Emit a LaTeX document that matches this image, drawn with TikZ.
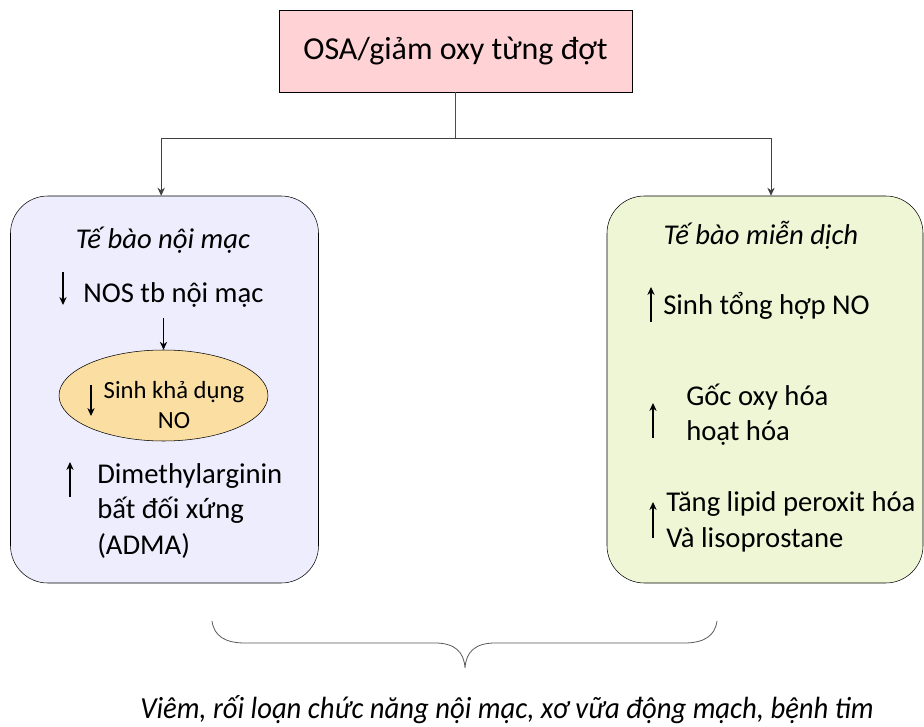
\documentclass[tikz,border=0pt]{standalone}
\usepackage{fontspec}
\setmainfont{Carlito}
\usetikzlibrary{positioning}
\usetikzlibrary{shapes.geometric}
\usetikzlibrary{arrows.meta}
\definecolor{osapink}{RGB}{255,210,214}
\definecolor{endofill}{RGB}{237,237,253}
\definecolor{immfill}{RGB}{238,246,214}
\definecolor{nofill}{RGB}{250,222,162}
\tikzset{%
  osabox/.style = {rectangle,draw,fill=osapink,minimum width=264.75pt,
        minimum height=61.5pt,font=\fontsize{24}{29}\selectfont},
  cellbox/.style = {rectangle,draw,rounded corners=28pt,minimum width=231pt,
        minimum height=290.25pt},
  head/.style = {font=\fontsize{21.5}{26}\selectfont\itshape},
  txt/.style = {font=\fontsize{21.5}{26.5}\selectfont,align=left,anchor=west,
        inner sep=0pt},
  smalltxt/.style = {font=\fontsize{18.5}{22.5}\selectfont,align=center,
        inner sep=0pt},
  link/.style = {draw=black!70,line width=0.6pt},
  flow/.style = {-{Stealth[length=6pt,width=5.5pt]},black!75,line width=0.6pt},
  ind/.style = {-{Stealth[length=6pt,width=5.5pt]},line width=0.8pt}
}
\begin{document}
\begin{tikzpicture}[x=0.75pt,y=-0.75pt]
  \useasboundingbox (0,0) rectangle (924,727);
  \node[osabox] (osa) at (455.5,51) {OSA/giảm oxy từng đợt};
  \node[cellbox,fill=endofill] (endo) at (164.5,389.5) {};
  \node[cellbox,fill=immfill,minimum width=237pt] (imm) at (765,389.5) {};
  \coordinate (split) at (osa.south |- 0,138);
  \draw[link] (osa.south) -- (split);
  \draw[flow] (split) -| ([xshift=-2.5pt]endo.north);
  \draw[flow] (split) -| ([xshift=4.5pt]imm.north);
  % left box
  \node[head] (endohead) at (163,240) {Tế bào nội mạc};
  \node[txt] (nos) at (83,295) {NOS tb nội mạc};
  \node[ellipse,draw,fill=nofill,minimum width=156.75pt,minimum height=68.25pt,
        inner sep=0pt] (bio) at (163.5,395.5) {};
  \node[smalltxt] (biotxt) at (174,405) {Sinh khả dụng\\NO};
  \draw[flow,black] ([yshift=-8pt]nos.south -| bio.north) -- (bio.north);
  \node[txt] (adma) at (97,511) {Dimethylarginin\\bất đối xứng\\(ADMA)};
  \draw[ind] (63,272) -- (63,305);
  \draw[ind] (91,385) -- (91,416);
  \draw[ind] (70,497) -- (70,462);
  % right box
  \node[head] (immhead) at (761,235) {Tế bào miễn dịch};
  \node[txt] (nosyn) at (663,306) {Sinh tổng hợp NO};
  \node[txt] (ros) at (686,415) {Gốc oxy hóa\\hoạt hóa};
  \node[txt] (lipid) at (666,522) {Tăng lipid peroxit hóa\\Và lisoprostane};
  \draw[ind] (651,322) -- (651,287);
  \draw[ind] (653,438) -- (653,403);
  \draw[ind] (653,538) -- (653,502);
  % brace
  \draw[black!65,line width=0.6pt] (212,621) .. controls (214,636) and (225,643) .. (245,643)
        -- (435,643) .. controls (455,643) and (464,652) .. (465,668)
        .. controls (466,652) and (475,643) .. (495,643)
        -- (684,643) .. controls (704,643) and (715,636) .. (717,621);
  \node[font=\fontsize{23}{27}\selectfont\itshape,xscale=0.935] (outcome)
        at (507,710) {Viêm, rối loạn chức năng nội mạc, xơ vữa động mạch, bệnh tim};
\end{tikzpicture}
\end{document}
